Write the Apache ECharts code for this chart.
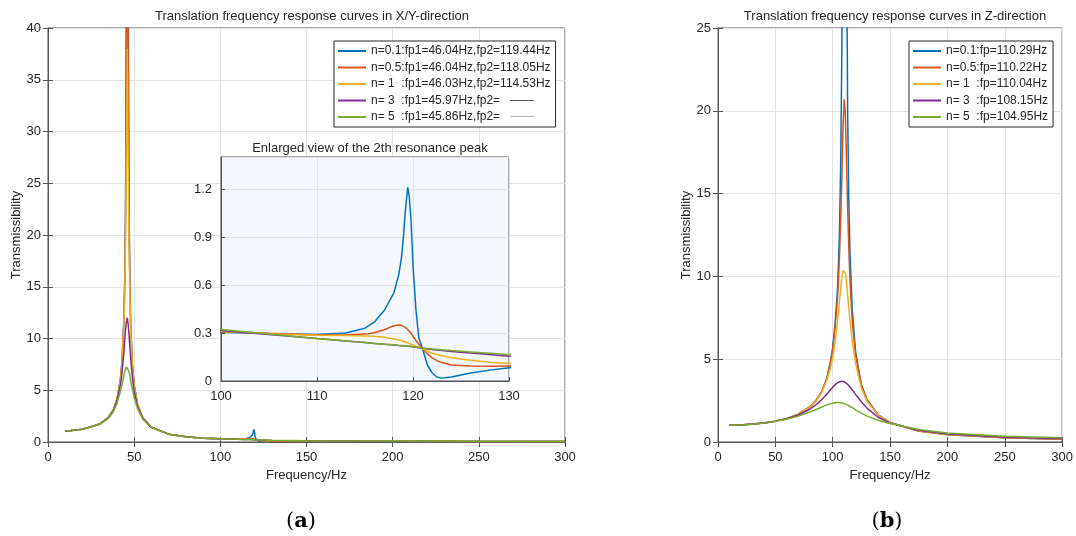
<!DOCTYPE html>
<html>
<head>
<meta charset="utf-8">
<title>Translation frequency response curves</title>
<script src="https://cdn.jsdelivr.net/npm/echarts@6/dist/echarts.min.js"></script>
<style>
    html, body { margin: 0; padding: 0; background: #fff; }
    #main { width: 1076px; height: 536px; }
</style>
</head>
<body>
<div id="main"></div>
<script>
// X/Y 方向 频率点 (Hz)
var freqXY = [10, 20, 30, 35, 38, 40, 42, 43, 44, 44.5, 45, 45.5, 46, 46.5, 47, 47.5, 48, 49, 50, 52,
    55, 60, 70, 80, 90,
    100, 105, 110, 113, 115, 116, 117, 118, 118.5, 118.8, 119, 119.2, 119.45, 119.6, 119.8, 120, 120.3, 120.6, 121, 121.5,
    122, 122.5, 123, 124, 126, 128, 130, 150, 200, 250, 300];
var xyN01 = [1.05, 1.23, 1.74, 2.37, 3.15, 4.1, 6.0, 7.9, 11.7, 15.5, 23, 45, 300, 45, 23, 15.5, 11.2, 7.4, 5.5, 3.6,
    2.33, 1.43, 0.76, 0.5, 0.37,
    0.305, 0.295, 0.29, 0.3, 0.33, 0.37, 0.44, 0.55, 0.66, 0.77, 0.9, 1.06, 1.21, 1.16, 1.0, 0.72, 0.45, 0.27, 0.2, 0.1,
    0.05, 0.025, 0.018, 0.025, 0.05, 0.068, 0.083, 0.1, 0.07, 0.05, 0.04];
var xyN05 = [1.05, 1.23, 1.74, 2.37, 3.15, 4.1, 6.0, 7.9, 11.6, 15.2, 22, 38, 80, 38, 22, 15.2, 11.1, 7.4, 5.5, 3.6,
    2.33, 1.43, 0.76, 0.5, 0.37,
    0.31, 0.298, 0.288, 0.287, 0.293, 0.302, 0.32, 0.345, 0.35, 0.348, 0.343, 0.335, 0.322, 0.312, 0.298, 0.28, 0.255, 0.23, 0.2, 0.17,
    0.145, 0.127, 0.115, 0.1, 0.093, 0.092, 0.093, 0.1, 0.07, 0.05, 0.04];
var xyN1 = [1.05, 1.23, 1.74, 2.36, 3.13, 4.05, 5.9, 7.7, 11.2, 14.3, 19.5, 28, 38, 27, 19, 14, 10.8, 7.2, 5.4, 3.55,
    2.31, 1.43, 0.76, 0.5, 0.37,
    0.31, 0.296, 0.286, 0.284, 0.282, 0.279, 0.273, 0.263, 0.257, 0.252, 0.248, 0.244, 0.238, 0.234, 0.23, 0.225, 0.217, 0.21, 0.2, 0.186,
    0.175, 0.166, 0.158, 0.146, 0.129, 0.117, 0.11, 0.1, 0.07, 0.05, 0.04];
var xyN3 = [1.05, 1.23, 1.73, 2.33, 3.05, 3.95, 5.5, 6.8, 8.6, 9.8, 10.9, 11.6, 12, 11.4, 10.4, 9.2, 8.0, 6.2, 4.9, 3.4,
    2.3, 1.42, 0.76, 0.5, 0.37,
    0.316, 0.291, 0.265, 0.25, 0.24, 0.235, 0.23, 0.225, 0.222, 0.221, 0.22, 0.219, 0.217, 0.216, 0.215, 0.213, 0.211, 0.208, 0.204, 0.2,
    0.197, 0.194, 0.191, 0.185, 0.175, 0.165, 0.155, 0.12, 0.08, 0.06, 0.05];
var xyN5 = [1.05, 1.22, 1.71, 2.28, 2.95, 3.7, 4.9, 5.6, 6.4, 6.8, 7.05, 7.25, 7.3, 7.1, 6.8, 6.4, 5.9, 5.1, 4.3, 3.2,
    2.2, 1.4, 0.76, 0.5, 0.37,
    0.322, 0.293, 0.265, 0.25, 0.24, 0.235, 0.23, 0.226, 0.223, 0.222, 0.221, 0.22, 0.218, 0.217, 0.216, 0.214, 0.212, 0.21, 0.206, 0.203,
    0.2, 0.198, 0.195, 0.19, 0.182, 0.174, 0.166, 0.13, 0.09, 0.07, 0.06];

// Z 方向
var freqZ = [10, 20, 30, 40, 50, 60, 70, 80, 85, 90, 95, 98, 100, 102, 104, 105, 106, 107, 108, 109,
    110, 110.3, 111, 112, 113, 114, 115, 117, 120, 125, 130, 140, 150, 175, 200, 250, 300];
var zN01 = [1.01, 1.03, 1.08, 1.15, 1.26, 1.42, 1.68, 2.12, 2.47, 2.98, 3.87, 4.85, 5.7, 7.1, 9.0, 10.7, 13.1, 17, 24, 43,
    150, 400, 75, 32, 20, 14.6, 11.5, 8.0, 5.4, 3.45, 2.55, 1.62, 1.18, 0.66, 0.44, 0.25, 0.16];
var zN05 = [1.01, 1.03, 1.08, 1.15, 1.26, 1.42, 1.68, 2.12, 2.47, 2.97, 3.84, 4.8, 5.6, 6.9, 8.5, 9.7, 11.4, 13.6, 16.0, 19.1,
    20.7, 20.8, 19.8, 17.0, 14.1, 11.7, 9.8, 7.3, 5.2, 3.4, 2.5, 1.6, 1.17, 0.66, 0.45, 0.26, 0.17];
var zN1 = [1.01, 1.03, 1.08, 1.15, 1.26, 1.42, 1.67, 2.09, 2.43, 2.93, 3.74, 4.45, 5.1, 6.0, 7.2, 7.85, 8.6, 9.3, 9.9, 10.35,
    10.45, 10.44, 10.2, 9.65, 8.9, 8.1, 7.4, 6.1, 4.7, 3.25, 2.45, 1.6, 1.17, 0.67, 0.46, 0.27, 0.18];
var zN3 = [1.01, 1.03, 1.08, 1.15, 1.26, 1.41, 1.63, 1.98, 2.22, 2.53, 2.9, 3.15, 3.3, 3.45, 3.57, 3.61, 3.64, 3.66, 3.67, 3.66,
    3.64, 3.63, 3.6, 3.54, 3.48, 3.41, 3.34, 3.16, 2.87, 2.43, 2.03, 1.48, 1.14, 0.69, 0.48, 0.28, 0.2];
var zN5 = [1.01, 1.03, 1.07, 1.14, 1.25, 1.38, 1.56, 1.81, 1.95, 2.1, 2.24, 2.31, 2.34, 2.37, 2.38, 2.38, 2.38, 2.37, 2.36, 2.34,
    2.32, 2.31, 2.29, 2.26, 2.23, 2.19, 2.15, 2.07, 1.94, 1.74, 1.56, 1.3, 1.12, 0.76, 0.55, 0.34, 0.25];

// 图例文字
var labelsXY = ['n=0.1:fp1=46.04Hz,fp2=119.44Hz', 'n=0.5:fp1=46.04Hz,fp2=118.05Hz', 'n= 1  :fp1=46.03Hz,fp2=114.53Hz',
    'n= 3  :fp1=45.97Hz,fp2=', 'n= 5  :fp1=45.86Hz,fp2='];
var labelsZ = ['n=0.1:fp=110.29Hz', 'n=0.5:fp=110.22Hz', 'n= 1  :fp=110.04Hz', 'n= 3  :fp=108.15Hz', 'n= 5  :fp=104.95Hz'];

var colors = ['#0072BD', '#D95319', '#EDB120', '#7E2F8E', '#77AC30'];
var font = 'Liberation Sans, Arial, Helvetica, sans-serif';
var txt = '#262626';
var axisCol = '#555';
var gridCol = '#e3e3e3';

function pairs(xs, ys) {
    var out = [];
    for (var i = 0; i < xs.length; i++) {
        out.push([xs[i], ys[i]]);
    }
    return out;
}

function line(name, xs, ys, idx, color, z) {
    return {
        name: name,
        type: 'line',
        xAxisIndex: idx,
        yAxisIndex: idx,
        data: pairs(xs, ys),
        symbol: 'none',
        z: z,
        lineStyle: { width: 1.5, color: color },
        itemStyle: { color: color }
    };
}

// 主坐标轴
function mainAxis(grid, min, max, interval, name, gap, vertical) {
    return {
        type: 'value', gridIndex: grid, min: min, max: max, interval: interval,
        name: name, nameLocation: 'middle', nameGap: gap,
        nameTextStyle: { color: txt, fontSize: 13, fontFamily: font },
        axisLine: { show: true, onZero: false, lineStyle: { color: axisCol } },
        axisTick: { show: true, inside: true, length: 5, lineStyle: { color: axisCol } },
        axisLabel: { color: txt, fontSize: 13, fontFamily: font, margin: vertical ? 7 : 9 },
        splitLine: { show: true, lineStyle: { color: gridCol } }
    };
}

// 上边/右边只画刻度
function tickAxis(grid, min, max, interval, pos) {
    return {
        type: 'value', gridIndex: grid, min: min, max: max, interval: interval, position: pos,
        axisLine: { show: false },
        axisTick: { show: true, inside: true, length: 5, lineStyle: { color: axisCol } },
        axisLabel: { show: false },
        splitLine: { show: false }
    };
}

function legendText(name) {
    if (name === labelsXY[3]) return name + '   {d3|——}';
    if (name === labelsXY[4]) return name + '   {d5|——}';
    return name;
}

var myChart = echarts.init(document.getElementById('main'));

var insetX = mainAxis(1, 100, 130, 10, '', 0, false);
insetX.z = 6;
insetX.axisTick.length = 4;
insetX.axisLabel.margin = 9;
var insetY = mainAxis(1, 0, 1.4, 0.3, '', 0, true);
insetY.z = 6;
insetY.axisTick.length = 4;
insetY.axisLabel.showMaxLabel = false;
insetY.axisLabel.margin = 9;

// 轴序号: 0 左图, 1 左图上/右刻度, 2 内嵌图, 3 Z 图, 4 Z 图上/右刻度
var series = [];
var xyData = [xyN01, xyN05, xyN1, xyN3, xyN5];
var zData = [zN01, zN05, zN1, zN3, zN5];
for (var i = 0; i < 5; i++) {
    series.push(line(labelsXY[i], freqXY, xyData[i], 0, colors[i], 2));
}
for (var j = 0; j < 5; j++) {
    series.push(line(labelsXY[j], freqXY, xyData[j], 2, colors[j], 7));
}
for (var k = 0; k < 5; k++) {
    series.push(line(labelsZ[k], freqZ, zData[k], 3, colors[k], 2));
}

var legendBase = {
    orient: 'vertical',
    icon: 'rect',
    itemWidth: 28,
    itemHeight: 2,
    itemGap: 2.5,
    padding: [3, 5, 3, 4],
    backgroundColor: '#fff',
    borderColor: '#262626',
    borderWidth: 1,
    selectedMode: false,
    z: 10
};

var option = {
    animation: false,
    backgroundColor: '#fff',
    title: [
        {
            text: 'Translation frequency response curves in X/Y-direction',
            left: 307, top: 5, textAlign: 'center',
            textStyle: { color: txt, fontSize: 13, fontWeight: 'normal', fontFamily: font }
        },
        {
            text: 'Enlarged view of the 2th resonance peak',
            left: 365, top: 137, textAlign: 'center', z: 8,
            textStyle: { color: txt, fontSize: 13, fontWeight: 'normal', fontFamily: font }
        },
        {
            text: 'Translation frequency response curves in Z-direction',
            left: 890, top: 5, textAlign: 'center',
            textStyle: { color: txt, fontSize: 13, fontWeight: 'normal', fontFamily: font }
        },
        {
            text: '({b|a})', left: 296, top: 506, textAlign: 'center',
            textStyle: {
                color: '#000', fontSize: 21, fontWeight: 'normal', fontFamily: 'DejaVu Serif, serif',
                rich: { b: { fontSize: 21, fontWeight: 'bold', fontFamily: 'DejaVu Serif, serif' } }
            }
        },
        {
            text: '({b|b})', left: 882, top: 506, textAlign: 'center',
            textStyle: {
                color: '#000', fontSize: 21, fontWeight: 'normal', fontFamily: 'DejaVu Serif, serif',
                rich: { b: { fontSize: 21, fontWeight: 'bold', fontFamily: 'DejaVu Serif, serif' } }
            }
        }
    ],
    legend: [
        Object.assign({}, legendBase, {
            left: 334, top: 41,
            data: labelsXY,
            formatter: legendText,
            textStyle: {
                color: txt, fontSize: 12, fontFamily: font, lineHeight: 14,
                rich: {
                    d3: { color: '#444', fontSize: 12, fontFamily: font },
                    d5: { color: '#aaa', fontSize: 12, fontFamily: font }
                }
            }
        }),
        Object.assign({}, legendBase, {
            left: 909, top: 41,
            data: labelsZ,
            textStyle: { color: txt, fontSize: 12, fontFamily: font, lineHeight: 14 }
        })
    ],
    grid: [
        { left: 48, top: 28, width: 517, height: 414, show: true, borderColor: axisCol, backgroundColor: 'transparent' },
        { left: 221, top: 157, width: 288, height: 224, show: true, borderColor: axisCol, backgroundColor: '#f4f7fc', z: 5 },
        { left: 718, top: 28, width: 345, height: 414, show: true, borderColor: axisCol, backgroundColor: 'transparent' }
    ],
    xAxis: [
        mainAxis(0, 0, 300, 50, 'Frequency/Hz', 26, false),
        tickAxis(0, 0, 300, 50, 'top'),
        insetX,
        mainAxis(2, 0, 300, 50, 'Frequency/Hz', 26, false),
        tickAxis(2, 0, 300, 50, 'top')
    ],
    yAxis: [
        mainAxis(0, 0, 40, 5, 'Transmissibility', 24, true),
        tickAxis(0, 0, 40, 5, 'right'),
        insetY,
        mainAxis(2, 0, 25, 5, 'Transmissibility', 25, true),
        tickAxis(2, 0, 25, 5, 'right')
    ],
    series: series
};

myChart.setOption(option);
</script>
</body>
</html>
